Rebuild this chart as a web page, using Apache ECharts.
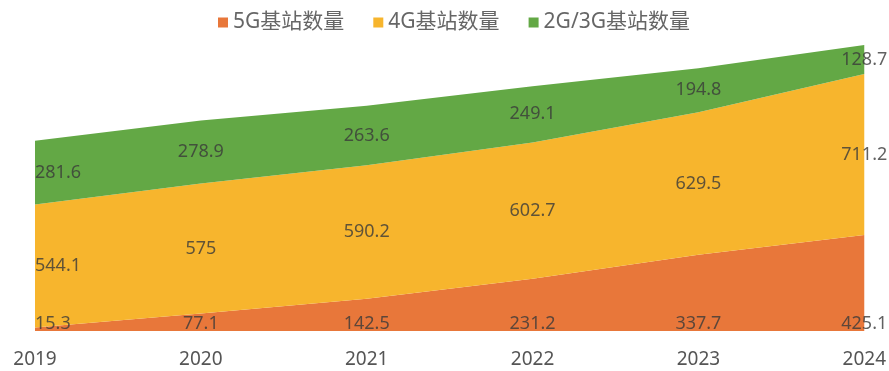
<!DOCTYPE html>
<html>
<head>
<meta charset="utf-8">
<title>基站数量</title>
<script src="https://cdn.jsdelivr.net/npm/echarts@6/dist/echarts.min.js"></script>
<style>
  html, body { margin: 0; padding: 0; background: #fff; }
  #chart { width: 889px; height: 371px; }
</style>
</head>
<body>
<div id="chart"></div>
<script>
// Years on the horizontal axis
const years = ['2019', '2020', '2021', '2022', '2023', '2024'];
// Base-station counts (万个)
const g5 = [15.3, 77.1, 142.5, 231.2, 337.7, 425.1];
const g4 = [544.1, 575, 590.2, 602.7, 629.5, 711.2];
const g23 = [281.6, 278.9, 263.6, 249.1, 194.8, 128.7];
const seriesNames = ['5G基站数量', '4G基站数量', '2G/3G基站数量'];

const colors = ['#E8773A', '#F7B52D', '#63A845'];
const fontFamily = '"Noto Sans", "Noto Sans CJK SC", sans-serif';

// Label anchors: centre of each band, 5G labels sit on the baseline
function labelPoints(values, base, mid) {
  return values.map((v, i) => {
    const y = mid ? base[i] + v / 2 : 0;
    return {
      value: [i, y, v],
      label: { align: i === 0 ? 'left' : 'center' }
    };
  });
}
const zero = years.map(() => 0);
const base4 = g5.slice();
const base23 = g5.map((v, i) => v + g4[i]);
const totals = base23.map((v, i) => v + g23[i]);

const areaSeries = [g5, g4, g23].map((arr, k) => ({
  name: seriesNames[k],
  type: 'line',
  stack: 'total',
  data: arr,
  showSymbol: false,
  symbol: 'none',
  lineStyle: { width: 0 },
  areaStyle: { color: colors[k], opacity: 1 },
  itemStyle: { color: colors[k] },
  z: 2
}));

const labelStyle = {
  show: true,
  formatter: p => String(p.value[2]),
  color: '#3a3a3a',
  fontSize: 18,
  fontFamily: fontFamily
};

const labelSeries = [
  { data: labelPoints(g5, zero, false), position: 'top', distance: -2 },
  { data: labelPoints(g4, base4, true), position: 'inside', distance: 0 },
  { data: labelPoints(g23, base23, true), position: 'inside', distance: 0 }
].map(s => ({
  type: 'scatter',
  symbolSize: 1,
  itemStyle: { color: 'rgba(0,0,0,0)' },
  silent: true,
  z: 5,
  data: s.data,
  label: Object.assign({}, labelStyle, { position: s.position, distance: s.distance })
}));

const chart = echarts.init(document.getElementById('chart'), null, { renderer: 'canvas' });
chart.setOption({
  backgroundColor: '#fff',
  animation: false,
  color: colors,
  legend: {
    data: seriesNames,
    top: 7,
    left: 213,
    icon: 'rect',
    itemWidth: 10,
    itemHeight: 10,
    itemGap: 29,
    textStyle: { fontSize: 21, color: '#666', fontFamily: fontFamily }
  },
  grid: { left: 35, right: 24, top: 45, bottom: 40 },
  xAxis: {
    type: 'category',
    data: years,
    boundaryGap: false,
    axisLine: { show: false },
    axisTick: { show: false },
    axisLabel: { margin: 19, fontSize: 19, color: '#555', fontFamily: fontFamily },
    splitLine: { show: false }
  },
  yAxis: {
    type: 'value',
    show: false,
    min: 0,
    max: Math.max(...totals),
    splitLine: { show: false }
  },
  series: areaSeries.concat(labelSeries)
});
</script>
</body>
</html>
